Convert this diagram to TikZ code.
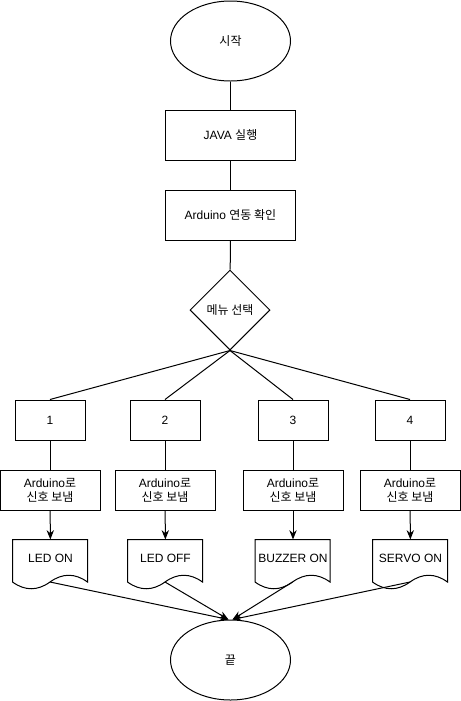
\documentclass[tikz,border=0pt]{standalone}
\usepackage{fontspec}
\setmainfont{Liberation Sans}
\newfontfamily\kr{Noto Sans CJK KR}
\usetikzlibrary{shapes.geometric,arrows.meta}

\begin{document}
\begin{tikzpicture}[every node/.style={align=center},x=0.75pt,y=-0.75pt,line width=0.75pt]
  \tikzset{
    base/.style={font=\fontsize{9}{10.5}\selectfont,inner sep=0pt},
    terminal/.style={base,draw,ellipse,minimum width=90pt,minimum height=60pt}, % start / end
    process/.style={base,draw,rectangle,minimum width=97.5pt,minimum height=37.5pt},
    choice/.style={base,draw,diamond,aspect=1,minimum width=60pt,minimum height=60pt},
    menuitem/.style={base,draw,rectangle,minimum width=52.5pt,minimum height=30pt},
    signal/.style={base,draw,rectangle,minimum width=75pt,minimum height=30pt},
    output/.style={base,rectangle,minimum width=56.25pt,minimum height=27pt}, % outline drawn below
    flow/.style={-{Stealth[length=7pt,width=5.5pt]}}
  }
  \useasboundingbox (0,0) rectangle (461,701);

  \node (start) [terminal] at (230.5,41) {{\kr 시작}};
  \node (java)  [process]  at (230.5,135) {JAVA {\kr 실행}};
  \node (link)  [process]  at (230.5,215) {Arduino {\kr 연동 확인}};
  \node (menu)  [choice]   at (230,310) {{\kr 메뉴 선택}};

  \node (m1) [menuitem] at (50,420) {1};
  \node (m2) [menuitem] at (165,420) {2};
  \node (m3) [menuitem] at (293,420) {3};
  \node (m4) [menuitem] at (410,420) {4};

  \node (s1) [signal] at (50,490) {Arduino{\kr 로}\\{\kr 신호 보냄}};
  \node (s2) [signal] at (165,490) {Arduino{\kr 로}\\{\kr 신호 보냄}};
  \node (s3) [signal] at (293,490) {Arduino{\kr 로}\\{\kr 신호 보냄}};
  \node (s4) [signal] at (410,490) {Arduino{\kr 로}\\{\kr 신호 보냄}};

  \node (led)    [output] at (50.5,558) {LED ON};
  \node (ledoff) [output] at (165.5,558) {LED OFF};
  \node (buzzer) [output] at (293,558) {BUZZER ON};
  \node (servo)  [output] at (410.5,558) {SERVO ON};

  \node (fin) [terminal] at (230.5,660) {{\kr 끝}};

  % document outlines with wavy bottom
  \foreach \d in {led,ledoff,buzzer,servo}
    \draw[shift={(\d.north west)}] (0,0) -- (75,0) -- (75,42.5)
      .. controls (62.5,33.5) and (50,33.5) .. (37.5,42.5) coordinate (\d-mid)
      .. controls (25,51.5) and (12.5,51.5) .. (0,42.5) -- cycle;

  \draw (start) -- (java);
  \draw (java) -- (link);
  \draw (link) -- (menu);
  \foreach \m in {m1,m2,m3,m4}
    \draw (menu.south) -- (\m.north);

  \draw (m1) -- (s1);
  \draw (m2) -- (s2);
  \draw (m3) -- (s3);
  \draw (m4) -- (s4);
  \draw[flow] (s1) -- (led);
  \draw[flow] (s2) -- (ledoff);
  \draw[flow] (s3) -- (buzzer);
  \draw[flow] (s4) -- (servo);

  \draw[flow] (led-mid) -- ([xshift=-1.5pt]fin.north);
  \draw[flow] (ledoff-mid) -- ([xshift=-1.5pt]fin.north);
  \draw[flow] (buzzer-mid) -- ([xshift=1.5pt]fin.north);
  \draw[flow] (servo-mid) -- ([xshift=1.5pt]fin.north);
\end{tikzpicture}
\end{document}
